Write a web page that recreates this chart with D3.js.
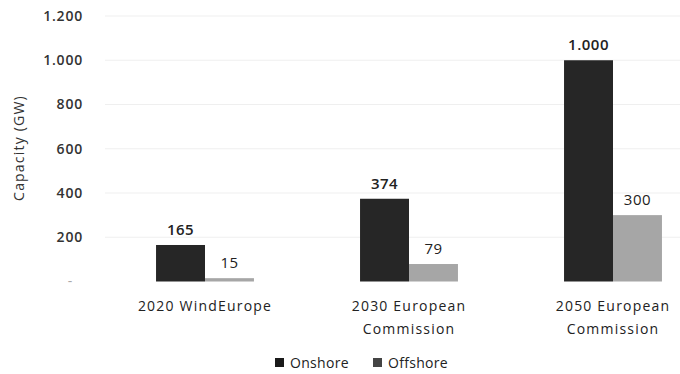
<!DOCTYPE html>
<html><head><meta charset="utf-8">
<script src="https://cdn.jsdelivr.net/npm/d3@7"></script>
<style>
html,body{margin:0;padding:0;background:#fff;}
text{font-family:"Open Sans",Lato,sans-serif;}
</style></head>
<body><svg id="c" width="680" height="374"></svg>
<script>
const categories = [["2020 WindEurope"], ["2030 European", "Commission"], ["2050 European", "Commission"]];
const categoryKeys = ["2020 WindEurope", "2030 European Commission", "2050 European Commission"];
const series = ["Onshore", "Offshore"];
const onshore = [165, 374, 1000];
const offshore = [15, 79, 300];
const yTicks = [0, 200, 400, 600, 800, 1000, 1200];
const colors = ["#262626", "#a6a6a6"];

const svg = d3.select("#c");
const loc = d3.formatLocale({decimal: ",", thousands: ".", grouping: [3], currency: ["", ""]});
const fmt = loc.format(",d");

const y = d3.scaleLinear().domain([0, 1200]).range([281.5, 16]);
const x0 = d3.scaleBand().domain(categoryKeys).range([103, 715]).paddingInner(0.52).paddingOuter(0.26);
const x1 = d3.scaleBand().domain(series).range([0, x0.bandwidth()]);

// gridlines
svg.append("g").selectAll("line").data(yTicks.filter(d => d > 0)).join("line")
  .attr("x1", 105).attr("x2", 680)
  .attr("y1", d => y(d)).attr("y2", d => y(d))
  .attr("stroke", "#efefef").attr("stroke-width", 1);

// y axis labels
const yAxis = d3.axisLeft(y).tickValues(yTicks).tickSize(0).tickPadding(0)
  .tickFormat(d => d === 0 ? "-" : fmt(d));
const ga = svg.append("g").attr("transform", "translate(83,0)").call(yAxis);
ga.select(".domain").remove();
ga.selectAll("text").attr("font-size", 14).attr("fill", "#333").attr("letter-spacing", 0.8)
  .attr("font-family", "'Open Sans',Lato,sans-serif").attr("font-weight", 600);
ga.selectAll(".tick").filter(d => d === 0).select("text").attr("fill", "#aaa").attr("font-weight", 400).attr("dx", -10);

svg.append("text").attr("transform", "translate(24,148) rotate(-90)")
  .attr("text-anchor", "middle").attr("font-size", 14).attr("fill", "#333").attr("letter-spacing", 1.2)
  .text("Capacity (GW)");

// bars
const data = categoryKeys.map((k, i) => ({k, vals: [onshore[i], offshore[i]]}));
const groups = svg.append("g").selectAll("g").data(data).join("g")
  .attr("transform", d => `translate(${x0(d.k)},0)`);
groups.selectAll("rect").data(d => d.vals.map((v, j) => ({v, s: series[j], j}))).join("rect")
  .attr("x", d => x1(d.s)).attr("width", x1.bandwidth())
  .attr("y", d => y(d.v)).attr("height", d => y(0) - y(d.v))
  .attr("fill", d => colors[d.j]);
groups.selectAll("text.val").data(d => d.vals.map((v, j) => ({v, s: series[j], j}))).join("text")
  .attr("class", "val")
  .attr("x", d => x1(d.s) + x1.bandwidth() / 2)
  .attr("y", d => y(d.v) - 10)
  .attr("text-anchor", "middle").attr("font-size", 15).attr("fill", "#222").attr("letter-spacing", 0.5)
  .attr("font-weight", d => d.j === 0 ? 600 : 400)
  .text(d => fmt(d.v));

// category labels
const xl = svg.append("g").selectAll("text").data(categories).join("text")
  .attr("x", (d, i) => x0(categoryKeys[i]) + x0.bandwidth() / 2)
  .attr("y", 311).attr("text-anchor", "middle").attr("font-size", 14).attr("fill", "#222")
  .attr("letter-spacing", 1.2);
xl.selectAll("tspan").data(d => d).join("tspan")
  .attr("x", function() { return this.parentNode.getAttribute("x"); })
  .attr("dy", (d, i) => i === 0 ? 0 : 23).text(d => d);

// legend
const legX = [275, 373];
const lg = svg.append("g").selectAll("g").data(series).join("g")
  .attr("transform", (d, i) => `translate(${legX[i]},363)`);
lg.append("rect").attr("x", 0).attr("y", -5).attr("width", 9).attr("height", 9)
  .attr("fill", (d, i) => i === 0 ? "#1a1a1a" : "#444");
lg.append("text").attr("x", 15).attr("y", 5).attr("font-size", 14).attr("fill", "#222").attr("letter-spacing", 0.3).text(d => d);
</script></body></html>
